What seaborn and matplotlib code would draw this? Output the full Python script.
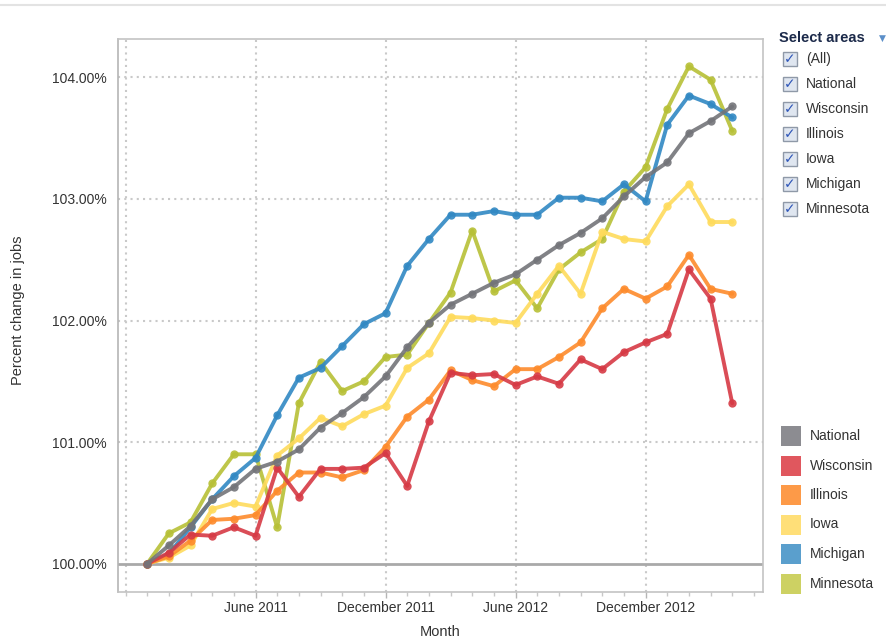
import matplotlib
matplotlib.use("Agg")
import matplotlib.pyplot as plt
import seaborn as sns
import pandas as pd
from matplotlib.patches import Rectangle
from matplotlib.lines import Line2D

# ---------------- data ----------------
months = ["2011-01", "2011-02", "2011-03", "2011-04", "2011-05", "2011-06", "2011-07",
          "2011-08", "2011-09", "2011-10", "2011-11", "2011-12", "2012-01", "2012-02",
          "2012-03", "2012-04", "2012-05", "2012-06", "2012-07", "2012-08", "2012-09",
          "2012-10", "2012-11", "2012-12", "2013-01", "2013-02", "2013-03", "2013-04"]

national = [100.00, 100.15, 100.31, 100.53, 100.63, 100.78, 100.84, 100.94, 101.12, 101.24,
            101.37, 101.54, 101.78, 101.98, 102.13, 102.22, 102.31, 102.38, 102.50, 102.62,
            102.72, 102.84, 103.02, 103.18, 103.30, 103.54, 103.64, 103.76]
wisconsin = [100.00, 100.09, 100.24, 100.23, 100.30, 100.23, 100.79, 100.55, 100.78, 100.78,
             100.79, 100.91, 100.64, 101.17, 101.57, 101.55, 101.56, 101.47, 101.54, 101.48,
             101.68, 101.60, 101.74, 101.82, 101.89, 102.42, 102.18, 101.32]
illinois = [100.00, 100.06, 100.19, 100.36, 100.37, 100.40, 100.60, 100.75, 100.75, 100.71,
            100.77, 100.96, 101.21, 101.35, 101.59, 101.51, 101.46, 101.60, 101.60, 101.70,
            101.82, 102.10, 102.26, 102.18, 102.28, 102.54, 102.26, 102.22]
iowa = [100.00, 100.05, 100.15, 100.45, 100.50, 100.47, 100.89, 101.03, 101.20, 101.13,
        101.23, 101.30, 101.61, 101.73, 102.03, 102.02, 102.00, 101.98, 102.22, 102.45,
        102.22, 102.73, 102.67, 102.65, 102.94, 103.12, 102.81, 102.81]
michigan = [100.00, 100.08, 100.30, 100.53, 100.72, 100.87, 101.22, 101.53, 101.61, 101.79,
            101.97, 102.06, 102.45, 102.67, 102.87, 102.87, 102.90, 102.87, 102.87, 103.01,
            103.01, 102.98, 103.12, 102.98, 103.61, 103.85, 103.78, 103.67]
minnesota = [100.00, 100.25, 100.34, 100.66, 100.90, 100.90, 100.30, 101.32, 101.66, 101.42,
             101.50, 101.70, 101.72, 101.98, 102.23, 102.74, 102.24, 102.33, 102.10, 102.42,
             102.56, 102.67, 103.06, 103.26, 103.74, 104.09, 103.98, 103.56]

areas = ["National", "Wisconsin", "Illinois", "Iowa", "Michigan", "Minnesota"]
series = {"National": national, "Wisconsin": wisconsin, "Illinois": illinois,
          "Iowa": iowa, "Michigan": michigan, "Minnesota": minnesota}
line_colors = {"National": "#737479", "Wisconsin": "#d63a45", "Illinois": "#fd8b2c",
               "Iowa": "#fedb5c", "Michigan": "#3188c3", "Minnesota": "#b7c036"}
legend_colors = {"National": "#8c8c91", "Wisconsin": "#e0575e", "Illinois": "#fd9a48",
                 "Iowa": "#ffdf78", "Michigan": "#5a9fcd", "Minnesota": "#cdd163"}
draw_order = ["Minnesota", "Michigan", "Iowa", "Illinois", "Wisconsin", "National"]

xtick_months = ["2011-06", "2011-12", "2012-06", "2012-12"]
xtick_labels = ["June 2011", "December 2011", "June 2012", "December 2012"]
grid_months_extra = ["2010-12"]
yticks = [100, 101, 102, 103, 104]
ytick_labels = ["100.00%", "101.00%", "102.00%", "103.00%", "104.00%"]
select_items = ["(All)"] + areas

# ---------------- build frame ----------------
month_periods = pd.PeriodIndex(months, freq="M")
base = month_periods[0]
def mpos(m):
    return (pd.Period(m, freq="M") - base).n

rows = []
for a in areas:
    for m, v in zip(months, series[a]):
        rows.append({"pos": mpos(m), "area": a, "value": v})
df = pd.DataFrame(rows)

# ---------------- figure ----------------
sns.set_theme(style="white")
plt.rcParams["font.family"] = ["Liberation Sans", "DejaVu Sans"]
W, H = 887, 639
fig = plt.figure(figsize=(W / 100, H / 100), dpi=100)
fig.patch.set_facecolor("white")

def fx(x):
    return x / W
def fy(y):
    return 1 - y / H

L, R, T, B = 117.7, 763, 39, 591.7
ax = fig.add_axes([fx(L), fy(B), fx(R) - fx(L), fy(T) - fy(B)])

sns.lineplot(data=df, x="pos", y="value", hue="area", hue_order=draw_order,
             palette=line_colors, marker="o", markersize=6, markeredgewidth=0,
             linewidth=2.8, alpha=0.9, legend=False, ax=ax, zorder=3)

ax.set_xlim(-1.36, 28.42)
ax.set_ylim(99.77, 104.315)

# gridlines
grid_pos = [mpos(m) for m in grid_months_extra + xtick_months]
for gp in grid_pos:
    ax.axvline(gp, color="#c9c9c9", lw=1.5, ls=(0, (1, 2)), zorder=1)
for yt in yticks[1:]:
    ax.axhline(yt, color="#c9c9c9", lw=1.5, ls=(0, (1, 2)), zorder=1)
ax.axhline(100, color="#a9a9a9", lw=2.0, zorder=2)

ax.set_yticks(yticks)
ax.set_yticklabels(ytick_labels, fontsize=10, color="#333333")
ax.set_xticks([mpos(m) for m in xtick_months])
ax.set_xticklabels(xtick_labels, fontsize=10, color="#333333")
ax.set_xticks(list(range(-1, 29)), minor=True)
ax.tick_params(axis="x", which="major", length=4, width=1, color="#b5b5b5", pad=3, bottom=True)
ax.tick_params(axis="x", which="minor", length=3, width=1, color="#c8c8c8", bottom=True)
ax.tick_params(axis="y", which="both", length=0, pad=8)
ax.set_xlabel("")
ax.set_ylabel("")
for s in ax.spines.values():
    s.set_color("#c3c3c3")
    s.set_linewidth(1.2)
ax.spines["left"].set_color("#b5b5b5")

fig.text(fx(440), fy(632), "Month", ha="center", va="center", fontsize=10.5, color="#333333")
fig.text(fx(18), fy(310), "Percent change in jobs", ha="center", va="center",
         rotation=90, fontsize=10.5, color="#333333")

# top thin rule
fig.add_artist(Line2D([0, 1], [fy(5), fy(5)], transform=fig.transFigure,
                      color="#e3e3e3", lw=1.5))

# ---------------- filter box ----------------
fig.text(fx(779), fy(38), "Select areas", ha="left", va="center", fontsize=10.5,
         fontweight="bold", color="#1c2a4a")
fig.text(fx(882), fy(38), "▼", ha="center", va="center", fontsize=6.5,
         color="#5b8fc9", family=["DejaVu Sans"])
for i, name in enumerate(select_items):
    yc = 59 + 25 * i
    fig.add_artist(Rectangle((fx(783), fy(yc + 7)), 14 / W, 14 / H,
                             transform=fig.transFigure, facecolor="#dfe6f0",
                             edgecolor="#8f99a8", lw=1.0))
    fig.text(fx(790), fy(yc), "✓", ha="center", va="center", fontsize=10,
             fontweight="bold", color="#2f56b8", family=["DejaVu Sans"])
    fig.text(fx(806), fy(yc), name, ha="left", va="center", fontsize=10, color="#333333")

# ---------------- color legend ----------------
for i, name in enumerate(areas):
    yc = 436 + 29.5 * i
    fig.add_artist(Rectangle((fx(781), fy(yc + 10)), 20 / W, 20 / H,
                             transform=fig.transFigure, facecolor=legend_colors[name],
                             edgecolor="none"))
    fig.text(fx(810), fy(yc), name, ha="left", va="center", fontsize=10, color="#333333")

fig.savefig("out.png", dpi=100)
